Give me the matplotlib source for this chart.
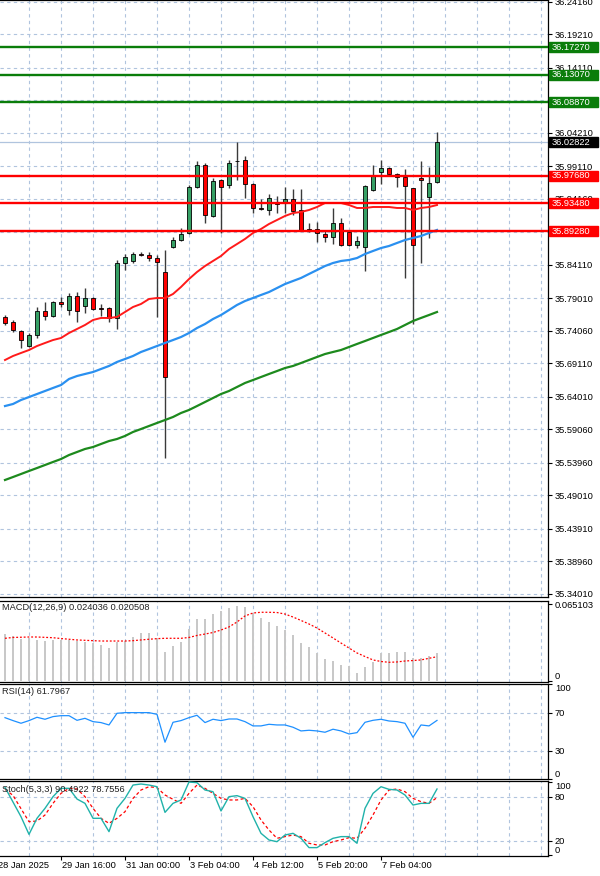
import matplotlib
matplotlib.use('Agg')
import matplotlib.pyplot as plt
import matplotlib.transforms as mtransforms
from matplotlib.patches import Rectangle
import numpy as np

plt.rcParams['font.family'] = ['Liberation Sans', 'DejaVu Sans']

# ---------------- data ----------------
opens = [35.7619, 35.7543, 35.7406, 35.7177, 35.7345, 35.7710, 35.7634, 35.7847, 35.7725, 35.7939,
         35.7786, 35.7908, 35.7756, 35.7756, 35.7604, 35.8441, 35.8472, 35.8578, 35.8563, 35.8517,
         35.8304, 35.8685, 35.8791, 35.8898, 35.9598, 35.9933, 35.9157, 35.9705, 35.9629, 35.9994,
         36.0010, 35.9644, 35.9279, 35.9248, 35.9355, 35.9370, 35.9416, 35.9248, 35.8959, 35.8959,
         35.8883, 35.8837, 35.9050, 35.8913, 35.8715, 35.8685, 35.9553, 35.9827, 35.9888, 35.9796,
         35.9751, 35.9583, 35.9735, 35.9446, 35.9675]
highs = [35.7649, 35.7573, 35.7421, 35.7375, 35.7771, 35.7847, 35.7862, 35.7923, 35.7984, 35.7999,
         35.8060, 35.7923, 35.7817, 35.7771, 35.8487, 35.8578, 35.8609, 35.8609, 35.8609, 35.8563,
         35.8639, 35.8837, 35.8974, 35.9629, 35.9994, 35.9964, 35.9735, 35.9720, 36.0010, 36.0284,
         36.0070, 35.9659, 35.9416, 35.9492, 35.9461, 35.9598, 35.9568, 35.9568, 35.9050, 35.9065,
         35.8944, 35.9279, 35.9126, 35.8944, 35.8852, 35.9629, 35.9933, 36.0010, 35.9903, 35.9812,
         35.9872, 35.9583, 35.9994, 35.9903, 36.0436]
lows = [35.7497, 35.7390, 35.7147, 35.7162, 35.7299, 35.7573, 35.7619, 35.7771, 35.7649, 35.7543,
        35.7680, 35.7725, 35.7634, 35.7543, 35.7436, 35.8334, 35.8441, 35.8548, 35.8472, 35.7619,
        35.5472, 35.8669, 35.8776, 35.8883, 35.9583, 35.9050, 35.9142, 35.8898, 35.9583, 35.9705,
        35.9431, 35.9202, 35.9248, 35.9172, 35.9202, 35.9202, 35.9172, 35.8928, 35.8913, 35.8761,
        35.8761, 35.8730, 35.8700, 35.8700, 35.8669, 35.8319, 35.9537, 35.9644, 35.9781, 35.9598,
        35.8213, 35.7512, 35.8441, 35.8822, 35.9659]
closes = [35.7527, 35.7421, 35.7269, 35.7345, 35.7710, 35.7634, 35.7847, 35.7817, 35.7939, 35.7710,
          35.7908, 35.7741, 35.7741, 35.7604, 35.8441, 35.8532, 35.8578, 35.8570, 35.8517, 35.8456,
          35.6705, 35.8791, 35.8883, 35.9598, 35.9933, 35.9172, 35.9690, 35.9598, 35.9964, 35.9987,
          35.9644, 35.9279, 35.9271, 35.9431, 35.9347, 35.9416, 35.9233, 35.8944, 35.8951, 35.8898,
          35.8837, 35.9050, 35.8715, 35.8715, 35.8776, 35.9614, 35.9766, 35.9888, 35.9796, 35.9751,
          35.9614, 35.8715, 35.9705, 35.9659, 36.02822]

ma_red = [35.6964, 35.7025, 35.7071, 35.7116, 35.7177, 35.7223, 35.7268, 35.7299, 35.7375, 35.7436,
          35.7497, 35.7573, 35.7604, 35.7604, 35.7619, 35.7695, 35.7771, 35.7817, 35.7893, 35.7908,
          35.7908, 35.7969, 35.8076, 35.8197, 35.8304, 35.8395, 35.8472, 35.8548, 35.8654, 35.8730,
          35.8807, 35.8898, 35.8959, 35.9035, 35.9096, 35.9157, 35.9202, 35.9218, 35.9248, 35.9294,
          35.9355, 35.9355, 35.9355, 35.9324, 35.9279, 35.9279, 35.9294, 35.9294, 35.9294, 35.9279,
          35.9279, 35.9248, 35.9279, 35.9294, 35.9324]
ma_blue = [35.6263, 35.6294, 35.6355, 35.6400, 35.6446, 35.6492, 35.6538, 35.6583, 35.6675, 35.6720,
           35.6751, 35.6781, 35.6827, 35.6873, 35.6934, 35.6979, 35.7025, 35.7086, 35.7131, 35.7177,
           35.7223, 35.7268, 35.7314, 35.7375, 35.7451, 35.7512, 35.7588, 35.7649, 35.7725, 35.7802,
           35.7862, 35.7908, 35.7954, 35.7999, 35.8060, 35.8121, 35.8167, 35.8213, 35.8274, 35.8334,
           35.8395, 35.8441, 35.8472, 35.8487, 35.8517, 35.8578, 35.8624, 35.8669, 35.8700, 35.8746,
           35.8791, 35.8822, 35.8852, 35.8898, 35.8944]
ma_green = [35.5137, 35.5182, 35.5228, 35.5274, 35.5319, 35.5365, 35.5411, 35.5456, 35.5517, 35.5563,
            35.5609, 35.5639, 35.5685, 35.5730, 35.5761, 35.5807, 35.5868, 35.5913, 35.5959, 35.6005,
            35.6050, 35.6096, 35.6157, 35.6203, 35.6263, 35.6324, 35.6385, 35.6446, 35.6492, 35.6553,
            35.6614, 35.6659, 35.6705, 35.6751, 35.6796, 35.6842, 35.6873, 35.6918, 35.6964, 35.7010,
            35.7055, 35.7086, 35.7116, 35.7162, 35.7208, 35.7253, 35.7299, 35.7345, 35.7390, 35.7436,
            35.7497, 35.7558, 35.7604, 35.7649, 35.7695]

green_levels = [36.17270, 36.13070, 36.08870]
red_levels = [35.97680, 35.93480, 35.89280]
current_price = 36.02822

price_ticks = [36.24160, 36.19210, 36.14110, 36.09160, 36.04210, 35.99110, 35.94160, 35.89110,
               35.84110, 35.79010, 35.74060, 35.69110, 35.64010, 35.59060, 35.53960, 35.49010,
               35.43910, 35.38960, 35.34010]
# labels fully covered by the level tags in the reference
hidden_price_labels = [36.09160, 35.89110]

macd_hist = [0.0395, 0.0380, 0.0353, 0.0361, 0.0347, 0.0338, 0.0347, 0.0347, 0.0347, 0.0338,
             0.0332, 0.0319, 0.0304, 0.0282, 0.0332, 0.0338, 0.0375, 0.0403, 0.0403, 0.0361,
             0.0248, 0.0296, 0.0332, 0.0437, 0.0524, 0.0524, 0.0566, 0.0592, 0.0615, 0.0637,
             0.0623, 0.0572, 0.0530, 0.0496, 0.0468, 0.0431, 0.0389, 0.0324, 0.0290, 0.0239,
             0.0186, 0.0169, 0.0135, 0.0129, 0.0065, 0.0121, 0.0163, 0.0234, 0.0234, 0.0243,
             0.0243, 0.0197, 0.0192, 0.0214, 0.024036]
macd_signal = [0.0361, 0.0368, 0.0370, 0.0372, 0.0372, 0.0369, 0.0366, 0.0359, 0.0353, 0.0347,
               0.0344, 0.0341, 0.0338, 0.0338, 0.0338, 0.0338, 0.0341, 0.0347, 0.0353, 0.0358,
               0.0361, 0.0361, 0.0361, 0.0368, 0.0385, 0.0397, 0.0410, 0.0431, 0.0457, 0.0499,
               0.0550, 0.0575, 0.0581, 0.0581, 0.0579, 0.0566, 0.0541, 0.0512, 0.0482, 0.0448,
               0.0406, 0.0364, 0.0321, 0.0279, 0.0237, 0.0207, 0.0178, 0.0165, 0.0158, 0.0161,
               0.0169, 0.0173, 0.0178, 0.0192, 0.020508]
macd_max = 0.065103

rsi = [64.7, 61.6, 58.8, 61.6, 65.1, 63.0, 65.8, 66.8, 66.8, 61.9,
       64.0, 60.5, 59.5, 57.0, 69.3, 70.0, 70.0, 70.0, 70.0, 68.2,
       38.8, 59.8, 61.6, 64.7, 67.2, 59.5, 63.0, 61.6, 63.3, 63.3,
       60.5, 56.0, 56.0, 57.7, 57.0, 57.0, 54.6, 50.7, 51.4, 50.7,
       49.3, 52.5, 50.7, 47.5, 48.9, 59.8, 61.9, 63.0, 61.2, 60.5,
       58.8, 44.0, 57.0, 56.0, 61.7967]

stoch_k = [92.7, 72.7, 52.7, 28.6, 50.5, 64.1, 80.0, 91.4, 91.4, 76.8,
           70.9, 50.5, 50.5, 32.3, 64.1, 77.7, 95.9, 97.3, 95.9, 93.6,
           58.6, 70.9, 75.5, 100.0, 99.1, 89.1, 86.8, 60.5, 80.0, 81.4,
           77.7, 52.7, 30.0, 20.9, 18.6, 27.7, 30.0, 23.2, 10.5, 10.5,
           17.3, 23.2, 25.5, 25.5, 16.4, 64.1, 84.5, 93.6, 90.0, 89.1,
           82.3, 68.6, 70.9, 70.9, 90.4922]
stoch_d = [90.0, 81.8, 63.6, 45.9, 46.8, 55.0, 70.9, 84.5, 91.4, 90.5,
           80.0, 64.1, 50.5, 43.6, 50.5, 59.5, 77.7, 89.1, 93.6, 92.3,
           82.3, 76.4, 70.9, 84.5, 95.9, 91.4, 84.5, 77.7, 75.5, 75.5,
           77.7, 66.4, 48.2, 34.5, 23.2, 25.5, 27.7, 25.5, 16.4, 14.1,
           14.1, 18.6, 20.9, 24.1, 23.2, 36.8, 55.0, 75.5, 89.1, 90.5,
           86.8, 77.7, 73.2, 70.9, 78.7556]

time_tick_pos = [-1, 7, 15, 23, 31, 39, 47]
time_tick_labels = ['28 Jan 2025', '29 Jan 16:00', '31 Jan 00:00', '3 Feb 04:00',
                    '4 Feb 12:00', '5 Feb 20:00', '7 Feb 04:00']

# ---------------- layout ----------------
W, H = 600, 876
fig = plt.figure(figsize=(W / 100, H / 100), dpi=100)
fig.patch.set_facecolor('white')

def add_panel(top, bottom, right=548):
    return fig.add_axes([0, (H - bottom) / H, right / W, (bottom - top) / H])

ax_main = add_panel(0, 597)
ax_macd = add_panel(601, 682)
ax_rsi = add_panel(684, 779)
ax_sto = add_panel(781, 856)

GRID = '#b0c4de'
FS = 6.7
XLIM = (-0.625, 67.875)

def style(ax):
    ax.set_xlim(*XLIM)
    ax.set_axisbelow(True)
    ax.yaxis.tick_right()
    ax.set_xticks(np.arange(3, 68, 4), minor=True)
    ax.grid(True, which='minor', axis='x', color=GRID, ls=(0, (3, 3)), lw=0.8)
    ax.tick_params(axis='x', which='minor', length=0)
    ax.tick_params(axis='y', which='major', length=3, width=0.8, pad=2,
                   labelsize=FS, colors='black')
    for name, s in ax.spines.items():
        s.set_color('black')
        s.set_linewidth(0.9)
    ax.spines['left'].set_visible(False)
    ax.set_facecolor('white')

for a in (ax_main, ax_macd, ax_rsi, ax_sto):
    style(a)
for a in (ax_main, ax_macd, ax_rsi):
    a.set_xticks([])

# ---------------- main price panel ----------------
idx = np.arange(len(opens))
o = np.array(opens); c = np.array(closes); hi = np.array(highs); lo = np.array(lows)
up = c > o
body_col = np.where(up, '#36a065', '#ff0000')
ax_main.vlines(idx, lo, hi, color='#3a3a3a', lw=1.0, zorder=2)
ax_main.bar(idx, np.maximum(np.abs(c - o), 0.0004), bottom=np.minimum(o, c), width=0.62,
            color=body_col, edgecolor='black', linewidth=0.6, zorder=3)

ax_main.axhline(current_price, color=GRID, lw=0.9, zorder=1.5)
ax_main.plot(idx, ma_green, color='#1d8a1d', lw=1.6, zorder=4)
ax_main.plot(idx, ma_blue, color='#2a90f0', lw=1.6, zorder=4)
ax_main.plot(idx, ma_red, color='#ff1a1a', lw=1.4, zorder=4)
for v in green_levels:
    ax_main.axhline(v, color='#0a7d0a', lw=1.7, zorder=4.5)
for v in red_levels:
    ax_main.axhline(v, color='#ff0000', lw=1.7, zorder=4.5)

ax_main.set_yticks(price_ticks)
ax_main.set_yticklabels(['' if v in hidden_price_labels else f'{v:.5f}' for v in price_ticks])
ax_main.grid(True, which='major', axis='y', color=GRID, ls=(0, (3, 3)), lw=0.8)
ax_main.set_ylim(35.3355, 36.2446)

trans = mtransforms.blended_transform_factory(ax_main.transAxes, ax_main.transData)
tag_h = 10 * 0.0015228

def tag(v, col):
    ax_main.add_patch(Rectangle((549 / 548, v - tag_h / 2), 49 / 548, tag_h, transform=trans,
                                clip_on=False, facecolor=col, edgecolor=col, zorder=10))
    ax_main.text(552 / 548, v, f'{v:.5f}', transform=trans, color='white', fontsize=FS,
                 va='center', ha='left', zorder=11, clip_on=False)

for v in green_levels:
    tag(v, '#0a7d0a')
for v in red_levels:
    tag(v, '#ff0000')
tag(current_price, '#000000')
ax_main.set_ylim(35.3355, 36.2446)

# ---------------- MACD ----------------
ax_macd.bar(idx, macd_hist, width=0.22, color='#c8c8c8', zorder=2)
ax_macd.plot(idx, macd_signal, color='#ff0000', lw=0.9, ls=(0, (1.5, 1.5)), zorder=3)
ax_macd.set_ylim(-0.00085, 0.06764)
ax_macd.set_yticks([0, macd_max])
ax_macd.set_yticklabels(['0', f'{macd_max:.6f}'])
ax_macd.get_yticklabels()[0].set_va('bottom')
ax_macd.text(0.004, 1 - 6 / 81, 'MACD(12,26,9) 0.024036 0.020508', transform=ax_macd.transAxes,
             fontsize=FS, va='center', ha='left', color='#222222')

# ---------------- RSI ----------------
for lvl in (30, 70):
    ax_rsi.axhline(lvl, color=GRID, ls=(0, (3, 3)), lw=0.8, zorder=1)
ax_rsi.plot(idx, rsi, color='#1e90ff', lw=0.9, zorder=3)
ax_rsi.set_ylim(0.2, 100.2)
ax_rsi.set_yticks([0, 30, 70, 100])
ax_rsi.set_yticklabels(['0', '30', '70', '100'])
ax_rsi.get_yticklabels()[0].set_va('bottom')
ax_rsi.get_yticklabels()[3].set_va('top')
ax_rsi.text(0.004, 1 - 8 / 95, 'RSI(14) 61.7967', transform=ax_rsi.transAxes,
            fontsize=FS, va='center', ha='left', color='#222222')

# ---------------- Stochastic ----------------
for lvl in (20, 80):
    ax_sto.axhline(lvl, color=GRID, ls=(0, (3, 3)), lw=0.8, zorder=1)
ax_sto.plot(idx, stoch_d, color='#ff0000', lw=0.9, ls=(0, (2.5, 2)), zorder=3)
ax_sto.plot(idx, stoch_k, color='#20b2aa', lw=1.0, zorder=4)
ax_sto.set_ylim(-0.95, 101.4)
ax_sto.set_yticks([0, 20, 80, 100])
ax_sto.set_yticklabels(['0', '20', '80', '100'])
ax_sto.get_yticklabels()[0].set_va('bottom')
ax_sto.get_yticklabels()[3].set_va('top')
ax_sto.text(0.004, 1 - 9 / 75, 'Stoch(5,3,3) 90.4922 78.7556', transform=ax_sto.transAxes,
            fontsize=FS, va='center', ha='left', color='#222222', zorder=6)

ax_sto.set_xticks([p for p in time_tick_pos if p > XLIM[0]])
ax_sto.set_xticklabels([])
ax_sto.tick_params(axis='x', which='major', length=3, width=0.8, direction='out')
for p, lab in zip(time_tick_pos, time_tick_labels):
    ax_sto.annotate(lab, xy=(p, 0), xycoords=('data', 'axes fraction'), xytext=(0.5, -3.5),
                    textcoords='offset points', ha='left', va='top', fontsize=FS,
                    annotation_clip=False, color='black')

fig.savefig('out.png', dpi=100, facecolor='white')
